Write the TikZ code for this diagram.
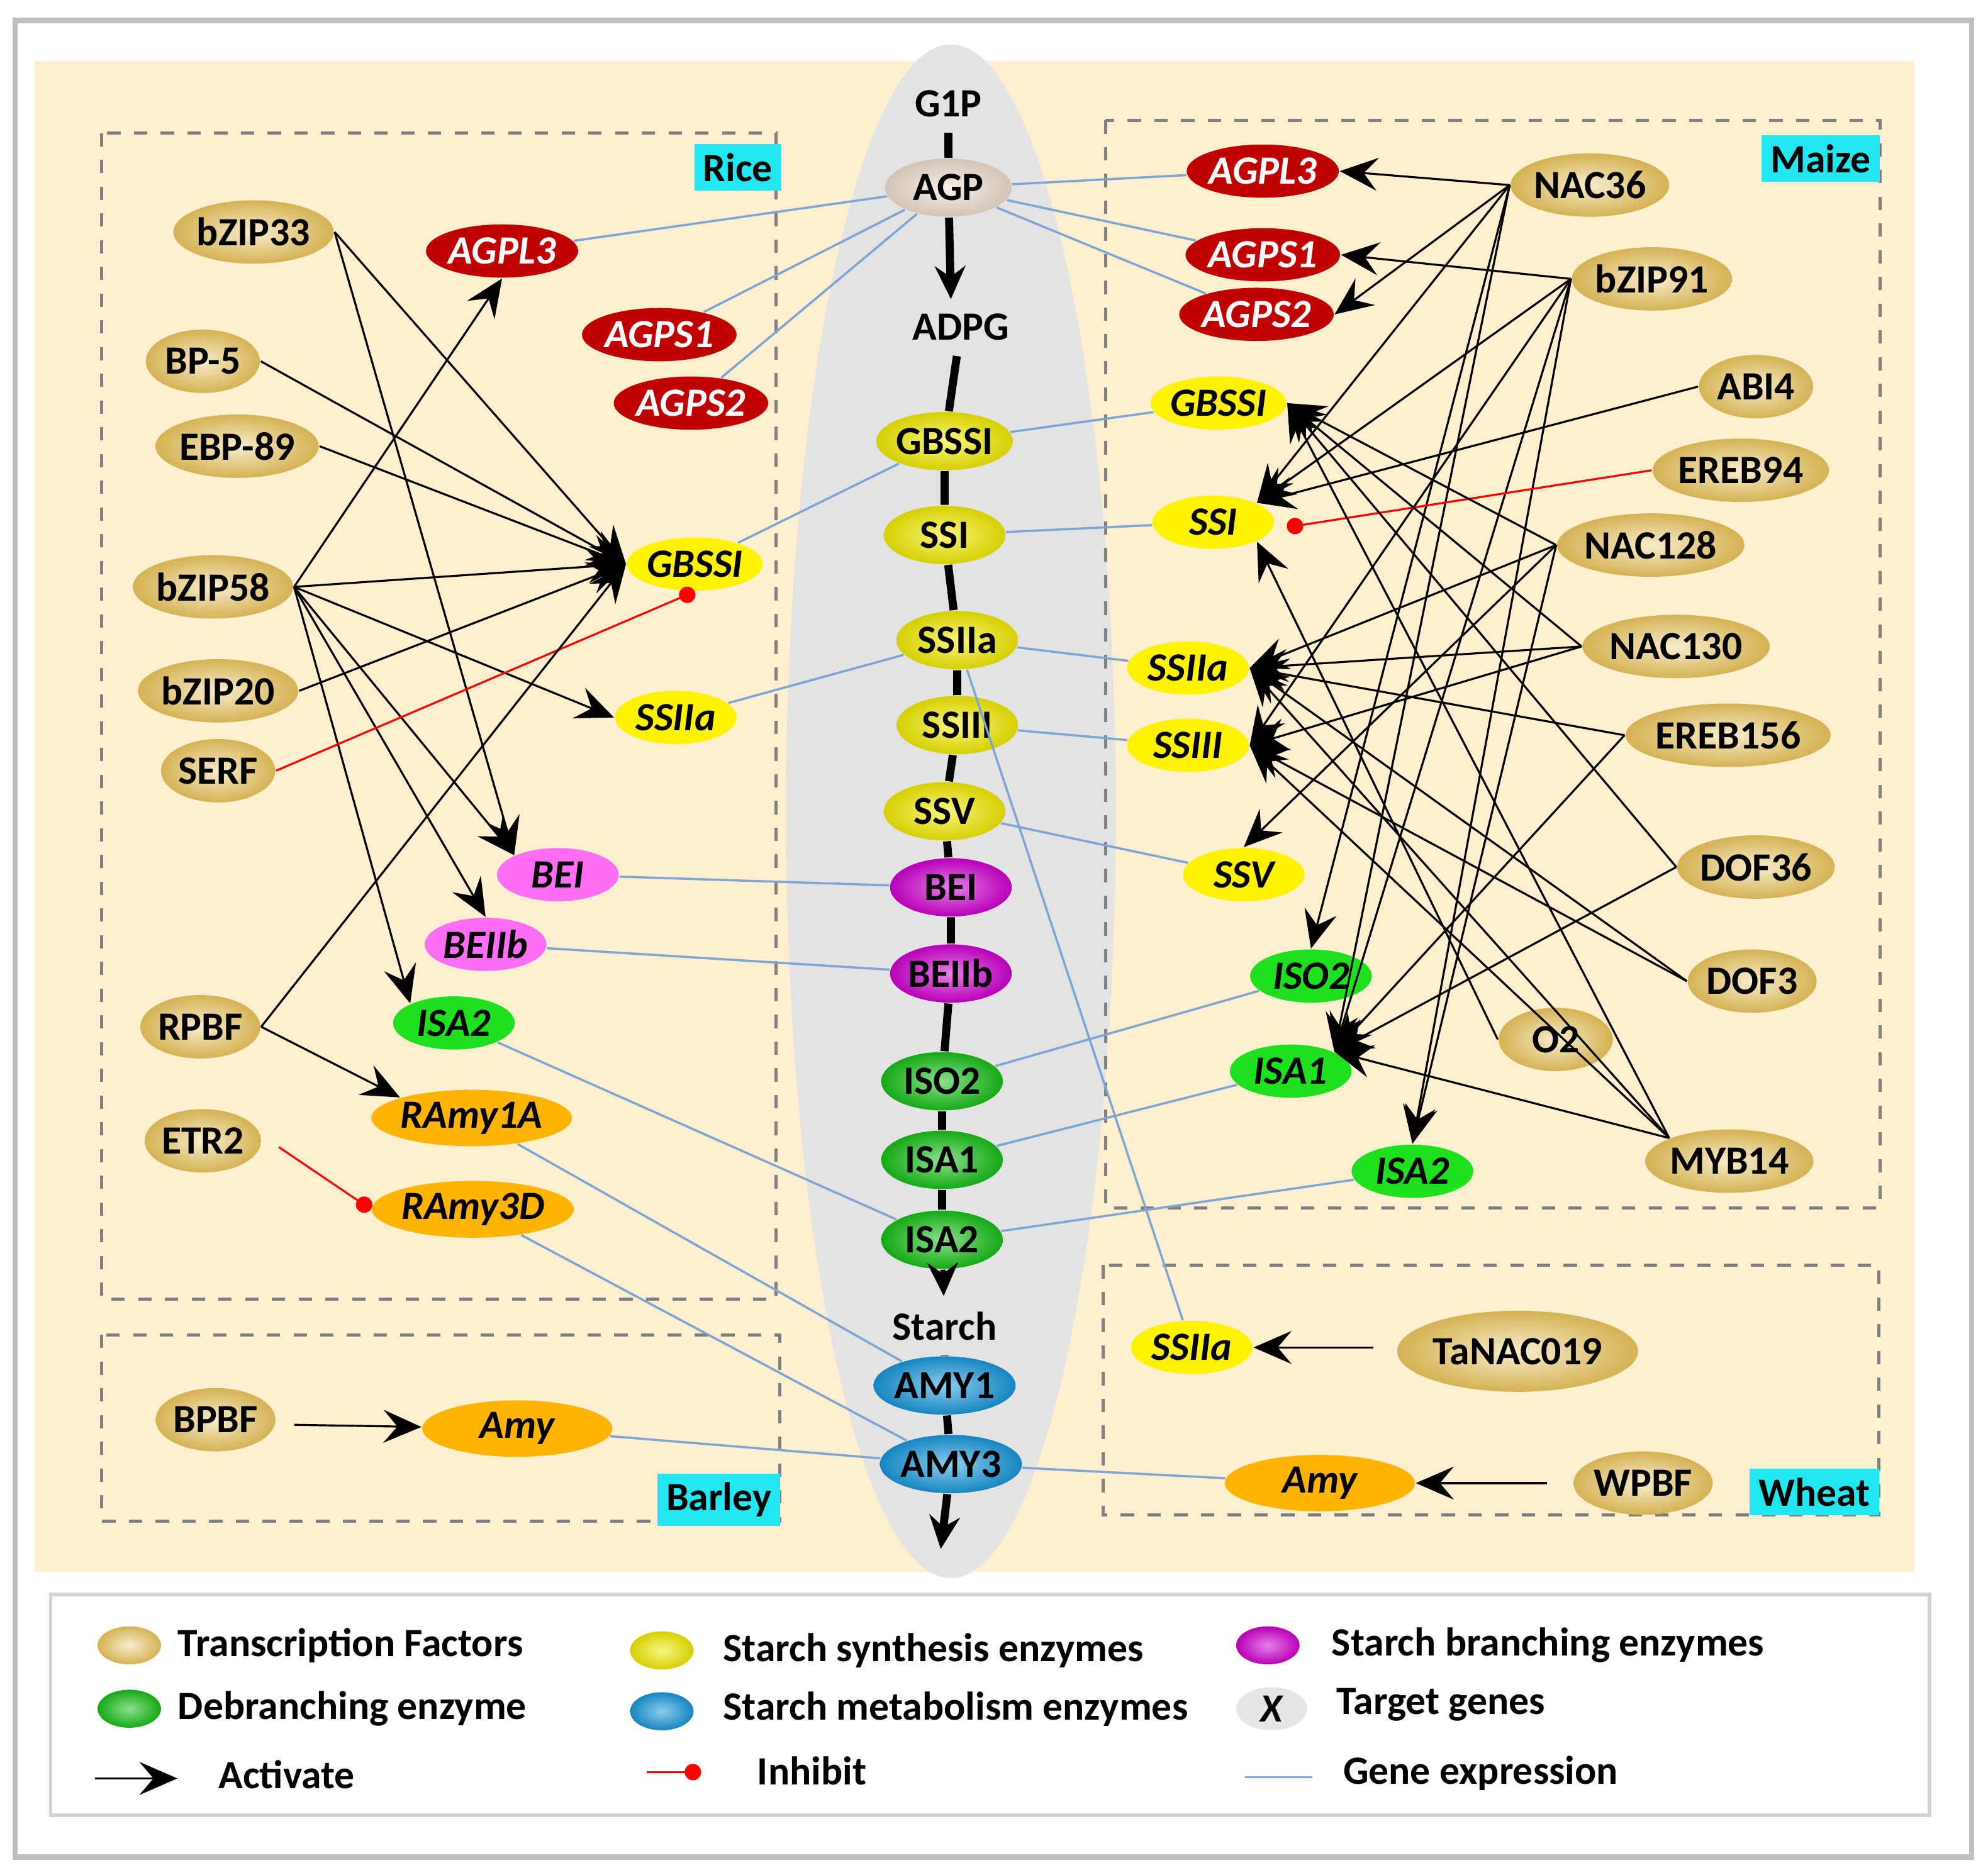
\documentclass[tikz,border=0pt]{standalone}
\usepackage{fontspec}
\setmainfont{Carlito}
\usetikzlibrary{shapes.geometric,arrows.meta}
\definecolor{beige}{HTML}{FDEFCF}
\definecolor{tfc}{HTML}{E6C25A}
\definecolor{redg}{HTML}{C00000}
\definecolor{yelg}{HTML}{FFF200}
\definecolor{pinkg}{HTML}{FF6EF5}
\definecolor{greeng}{HTML}{1EE01E}
\definecolor{orangeg}{HTML}{FFB400}
\definecolor{expr}{HTML}{7FA5D2}
\definecolor{labc}{HTML}{22E6F0}
\definecolor{yelb}{HTML}{F2EC00}
\definecolor{magb}{HTML}{D000D0}
\definecolor{greb}{HTML}{18C018}
\definecolor{blub}{HTML}{1898DA}
\tikzset{
  base/.style={ellipse, inner xsep=0pt, inner ysep=0.3mm, font=\fontsize{9}{10}\selectfont\bfseries},
  tf/.style={base, inner color=white!70!tfc, outer color=tfc!92!black, minimum height=5mm, minimum width=9mm},
  enz/.style={base, inner color=white!50!#1, outer color=#1!88!black, minimum height=4.6mm, minimum width=9.6mm},
  tg/.style={base, fill=#1, font=\fontsize{9}{10}\selectfont\bfseries\itshape, minimum height=4.2mm, minimum width=9.6mm},
  tgr/.style={tg=redg, text=white},
  act/.style={-{Stealth[length=3mm,width=2.6mm,inset=1.1mm]}, black, line width=0.45pt},
  inh/.style={-{Circle[length=1.3mm]}, red, line width=0.45pt},
  ex/.style={expr, line width=0.5pt},
  box/.style={draw=gray, dashed, line width=0.7pt},
  lab/.style={fill=labc, font=\fontsize{9}{10}\selectfont\bfseries, inner sep=0.7mm},
  main/.style={line width=1.8pt, black},
  mainar/.style={main, -{Stealth[length=2.6mm,width=2.4mm]}},
  leg/.style={anchor=west, font=\fontsize{9}{11}\selectfont\bfseries}
}
\begin{document}
\begin{tikzpicture}[x=0.1mm,y=-0.1mm]
\useasboundingbox (0,0) rectangle (1568,1479);
% frames
\draw[gray!50, line width=1.2pt] (12,16) rectangle (1555,1465);
\fill[beige] (28,48) rectangle (1510,1240);
\draw[gray!35, line width=0.8pt] (40,1258) rectangle (1522,1432);
\fill[gray!22] (750,640) ellipse (130 and 605);
\draw[box] (80,105) rectangle (612,1025);
\draw[box] (80,1053) rectangle (615,1200);
\draw[box] (872,95) rectangle (1483,953);
\draw[box] (870,998) rectangle (1482,1195);
\node[lab] (lrice) at (582,132) {Rice};
\node[lab] (lbarley) at (567,1183) {Barley};
\node[lab] (lmaize) at (1436,125) {Maize};
\node[lab] (lwheat) at (1431,1177) {Wheat};

% central pathway
\node[font=\fontsize{9}{10}\selectfont\bfseries] (g1p) at (748,82) {G1P};
\node[enz=brown!25!white, minimum width=10mm] (cAGP) at (748,148) {AGP};
\node[font=\fontsize{9}{10}\selectfont\bfseries] (adpg) at (758,258) {ADPG};
\node[enz=yelb] (cGBSSI) at (745,348) {GBSSI};
\node[enz=yelb] (cSSI) at (745,422) {SSI};
\node[enz=yelb] (cSSIIa) at (755,505) {SSIIa};
\node[enz=yelb] (cSSIII) at (755,572) {SSIII};
\node[enz=yelb] (cSSV) at (745,640) {SSV};
\node[enz=magb] (cBEI) at (750,700) {BEI};
\node[enz=magb] (cBEIIb) at (750,768) {BEIIb};
\node[enz=greb] (cISO2) at (743,853) {ISO2};
\node[enz=greb] (cISA1) at (743,915) {ISA1};
\node[enz=greb] (cISA2) at (743,978) {ISA2};
\node[font=\fontsize{9}{10}\selectfont\bfseries] (starch) at (745,1046) {Starch};
\node[enz=blub] (cAMY1) at (745,1093) {AMY1};
\node[enz=blub] (cAMY3) at (750,1155) {AMY3};
\coordinate (cend) at (742,1222);
\draw[main] (g1p) -- (cAGP);
\draw[mainar] (cAGP) -- (750,236);
\draw[main] (adpg) -- (cGBSSI) -- (cSSI) -- (cSSIIa) -- (cSSIII) -- (cSSV) -- (cBEI) -- (cBEIIb) -- (cISO2) -- (cISA1) -- (cISA2);
\draw[mainar, line width=1.2pt] (cISA2) -- (starch);
\draw[main] (starch) -- (cAMY1) -- (cAMY3);
\draw[mainar] (cAMY3) -- (cend);

% rice
\node[tf] (bZIP33) at (200,183) {bZIP33};
\node[tf] (BP5) at (160,285) {BP-5};
\node[tf] (EBP89) at (187,352) {EBP-89};
\node[tf] (bZIP58) at (168,463) {bZIP58};
\node[tf] (bZIP20) at (172,545) {bZIP20};
\node[tf] (SERF) at (172,608) {SERF};
\node[tf] (RPBF) at (158,810) {RPBF};
\node[tf] (ETR2) at (160,900) {ETR2};
\node[tgr] (rAGPL3) at (396,198) {AGPL3};
\node[tgr] (rAGPS1) at (520,264) {AGPS1};
\node[tgr] (rAGPS2) at (545,318) {AGPS2};
\node[tg=yelg] (rGBSSI) at (548,445) {GBSSI};
\node[tg=yelg] (rSSIIa) at (533,566) {SSIIa};
\node[tg=pinkg] (rBEI) at (440,690) {BEI};
\node[tg=pinkg] (rBEIIb) at (383,745) {BEIIb};
\node[tg=greeng] (rISA2) at (358,807) {ISA2};
\node[tg=orangeg, minimum width=15mm] (rRAmy1A) at (372,882) {RAmy1A};
\node[tg=orangeg, minimum width=15mm] (rRAmy3D) at (373,954) {RAmy3D};
\draw[act] (bZIP33.east) -- (rGBSSI.west);
\draw[act] (bZIP33.east) -- (rBEI.north west);
\draw[act] (BP5.east) -- (rGBSSI.west);
\draw[act] (EBP89.east) -- (rGBSSI.west);
\draw[act] (bZIP58.east) -- (rAGPL3.south);
\draw[act] (bZIP58.east) -- (rGBSSI.west);
\draw[act] (bZIP58.east) -- (rSSIIa.west);
\draw[act] (bZIP58.east) -- (rBEI.north west);
\draw[act] (bZIP58.east) -- (rBEIIb.north);
\draw[act] (bZIP58.east) -- (rISA2.north west);
\draw[act] (bZIP20.east) -- (rGBSSI.west);
\draw[inh] (SERF.east) -- (rGBSSI.south);
\draw[act] (RPBF.east) -- (rGBSSI.west);
\draw[act] (RPBF.east) -- (rRAmy1A.north west);
\draw[inh] (220,905) -- (rRAmy3D.west);
% rice expression
\draw[ex] (rAGPL3) -- (cAGP);
\draw[ex] (rAGPS1) -- (cAGP);
\draw[ex] (rAGPS2) -- (cAGP);
\draw[ex] (rGBSSI) -- (cGBSSI);
\draw[ex] (rSSIIa) -- (cSSIIa);
\draw[ex] (rBEI) -- (cBEI);
\draw[ex] (rBEIIb) -- (cBEIIb);
\draw[ex] (rISA2) -- (cISA2);
\draw[ex] (rRAmy1A) -- (cAMY1);
\draw[ex] (rRAmy3D) -- (cAMY3);

% barley
\node[tf] (BPBF) at (170,1120) {BPBF};
\node[tg=orangeg, minimum width=15mm] (bAmy) at (408,1127) {Amy};
\draw[act] (232,1124) -- (bAmy);
\draw[ex] (bAmy) -- (cAMY3);

% maize
\node[tgr] (mAGPL3) at (996,135) {AGPL3};
\node[tgr] (mAGPS1) at (996,201) {AGPS1};
\node[tgr] (mAGPS2) at (991,248) {AGPS2};
\node[tg=yelg] (mGBSSI) at (961,318) {GBSSI};
\node[tg=yelg] (mSSI) at (957,412) {SSI};
\node[tg=yelg] (mSSIIa) at (937,527) {SSIIa};
\node[tg=yelg] (mSSIII) at (937,588) {SSIII};
\node[tg=yelg] (mSSV) at (981,690) {SSV};
\node[tg=greeng] (mISO2) at (1034,770) {ISO2};
\node[tg=greeng] (mISA1) at (1018,845) {ISA1};
\node[tg=greeng] (mISA2) at (1114,924) {ISA2};
\node[tf] (NAC36) at (1254,146) {NAC36};
\node[tf] (bZIP91) at (1303,220) {bZIP91};
\node[tf] (ABI4) at (1385,305) {ABI4};
\node[tf] (EREB94) at (1373,371) {EREB94};
\node[tf] (NAC128) at (1302,430) {NAC128};
\node[tf] (NAC130) at (1322,510) {NAC130};
\node[tf] (EREB156) at (1363,580) {EREB156};
\node[tf] (DOF36) at (1385,684) {DOF36};
\node[tf] (DOF3) at (1382,774) {DOF3};
\node[tf] (O2) at (1227,820) {O2};
\node[tf] (MYB14) at (1364,916) {MYB14};
\draw[act] (NAC36.west) -- (mAGPL3.east);
\draw[act] (NAC36.west) -- (mAGPS2.east);
\draw[act] (NAC36.west) -- (mSSI.north east);
\draw[act] (NAC36.west) -- (mISO2.north);
\draw[act] (NAC36.west) -- (mISA1.north east);
\draw[act] (bZIP91.west) -- (mAGPS1.east);
\draw[act] (bZIP91.west) -- (mSSI.north east);
\draw[act] (bZIP91.west) -- (mSSIII.east);
\draw[act] (bZIP91.west) -- (mISA1.north east);
\draw[act] (bZIP91.west) -- (mISA2.north);
\draw[act] (ABI4.west) -- (mSSI.north east);
\draw[inh] (EREB94.west) -- (1015,416);
\draw[act] (NAC128.west) -- (mGBSSI.east);
\draw[act] (NAC128.west) -- (mSSIIa.east);
\draw[act] (NAC128.west) -- (mSSV.north);
\draw[act] (NAC128.west) -- (mISA2.north);
\draw[act] (NAC130.west) -- (mGBSSI.east);
\draw[act] (NAC130.west) -- (mSSIIa.east);
\draw[act] (NAC130.west) -- (mSSIII.east);
\draw[act] (EREB156.west) -- (mSSIIa.east);
\draw[act] (EREB156.west) -- (mISA1.north east);
\draw[act] (DOF36.west) -- (mGBSSI.east);
\draw[act] (DOF36.west) -- (mISA1.north east);
\draw[act] (DOF3.west) -- (mSSIIa.east);
\draw[act] (DOF3.west) -- (mSSIII.east);
\draw[act] (O2.west) -- (mSSI.south east);
\draw[act] (MYB14.north west) -- (mGBSSI.east);
\draw[act] (MYB14.north west) -- (mSSIIa.east);
\draw[act] (MYB14.north west) -- (mSSIII.east);
\draw[act] (MYB14.north west) -- (mISA1.north east);
% maize expression
\draw[ex] (cAGP) -- (mAGPL3);
\draw[ex] (cAGP) -- (mAGPS1);
\draw[ex] (cAGP) -- (mAGPS2);
\draw[ex] (cGBSSI) -- (mGBSSI);
\draw[ex] (cSSI) -- (mSSI);
\draw[ex] (cSSIIa) -- (mSSIIa);
\draw[ex] (cSSIII) -- (mSSIII);
\draw[ex] (cSSV) -- (mSSV);
\draw[ex] (cISO2) -- (mISO2);
\draw[ex] (cISA1) -- (mISA1);
\draw[ex] (cISA2) -- (mISA2);

% wheat
\node[tg=yelg] (wSSIIa) at (940,1063) {SSIIa};
\node[tf, minimum width=19mm, minimum height=6.4mm] (TaNAC019) at (1197,1066) {TaNAC019};
\node[tg=orangeg, minimum width=15mm] (wAmy) at (1041,1170) {Amy};
\node[tf] (WPBF) at (1296,1170) {WPBF};
\draw[act] (1083,1063) -- (wSSIIa);
\draw[act] (1220,1170) -- (wAmy);
\draw[ex] (cSSIIa) -- (wSSIIa);
\draw[ex] (cAMY3) -- (wAmy);

% legend
\node[tf, minimum width=5mm, minimum height=3mm] (k1) at (102,1298) {};
\node[leg] (t1) at (128,1298) {Transcription Factors};
\node[enz=yelb, minimum width=5mm, minimum height=3mm] (k2) at (522,1302) {};
\node[leg] (t2) at (558,1302) {Starch synthesis enzymes};
\node[enz=magb, minimum width=5mm, minimum height=3mm] (k3) at (1000,1298) {};
\node[leg] (t3) at (1038,1298) {Starch branching enzymes};
\node[enz=greb, minimum width=5mm, minimum height=3mm] (k4) at (102,1348) {};
\node[leg] (t4) at (128,1348) {Debranching enzyme};
\node[enz=blub, minimum width=5mm, minimum height=3mm] (k5) at (522,1350) {};
\node[leg] (t5) at (558,1348) {Starch metabolism enzymes};
\node[ellipse, fill=gray!20, minimum width=5.6mm, minimum height=3.4mm, inner sep=0pt, font=\fontsize{9}{10}\selectfont\bfseries\itshape] (k6) at (1003,1348) {X};
\node[leg] (t6) at (1042,1345) {Target genes};
\coordinate (a1) at (75,1403);
\coordinate (a2) at (140,1403);
\draw[act] (a1) -- (a2);
\node[leg] (t7) at (160,1400) {Activate};
\coordinate (i1) at (510,1398);
\coordinate (i2) at (553,1398);
\draw[inh] (i1) -- (i2);
\node[leg] (t8) at (585,1397) {Inhibit};
\coordinate (e1) at (982,1402);
\coordinate (e2) at (1035,1402);
\draw[ex] (e1) -- (e2);
\node[leg] (t9) at (1047,1399) {Gene expression};
\end{tikzpicture}
\end{document}
